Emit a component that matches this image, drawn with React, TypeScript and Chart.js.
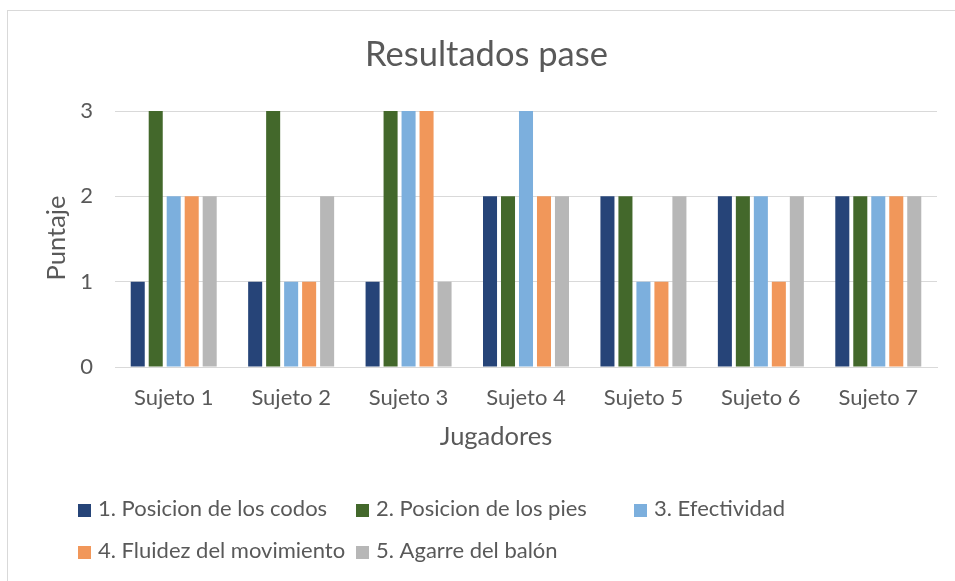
import React, { useEffect, useRef } from "react";
import { Chart, registerables } from "chart.js";

Chart.register(...registerables);

const categories = ["Sujeto 1", "Sujeto 2", "Sujeto 3", "Sujeto 4", "Sujeto 5", "Sujeto 6", "Sujeto 7"];
const seriesNames = [
  "1. Posicion de los codos",
  "2. Posicion de los pies",
  "3. Efectividad",
  "4. Fluidez del movimiento",
  "5. Agarre del balón",
];
const codos = [1, 1, 1, 2, 2, 2, 2];
const pies = [3, 3, 3, 2, 2, 2, 2];
const efectividad = [2, 1, 3, 3, 1, 2, 2];
const fluidez = [2, 1, 3, 2, 1, 1, 2];
const agarre = [2, 2, 1, 2, 2, 2, 2];
const seriesColors = ["#264478", "#43682B", "#7CAFDD", "#F1975A", "#B7B7B7"];
const yMin = 0;
const yMax = 3;
const yStep = 1;
const chartTitle = "Resultados pase";
const xTitle = "Jugadores";
const yTitle = "Puntaje";

const FONT = "Lato";
const TEXT = "#595959";
const LEGEND_SIZE = 22;
const TICK_SIZE = 22;

const textsAndLegend = {
  id: "textsAndLegend",
  afterDraw(chart: any) {
    const ctx = chart.ctx;
    ctx.save();
    ctx.fillStyle = TEXT;
    ctx.textAlign = "center";
    ctx.textBaseline = "middle";
    // chart title
    ctx.font = `34.5px ${FONT}`;
    ctx.fillText(chartTitle, 486.5, 55);
    // x axis title
    ctx.font = `25.5px ${FONT}`;
    ctx.fillText(xTitle, 496, 437);
    // y axis title
    ctx.save();
    ctx.translate(57, 238);
    ctx.rotate(-Math.PI / 2);
    ctx.fillText(yTitle, 0, 0);
    ctx.restore();
    // legend
    const cols = [78, 356, 634];
    const rows = [509, 551];
    ctx.font = `${LEGEND_SIZE}px ${FONT}`;
    ctx.textAlign = "left";
    chart.data.datasets.forEach((ds: any, i: number) => {
      const x = cols[i % 3];
      const y = rows[Math.floor(i / 3)];
      ctx.fillStyle = ds.backgroundColor;
      ctx.fillRect(x, y - 5, 13, 13);
      ctx.fillStyle = TEXT;
      ctx.fillText(ds.label, x + 20, y);
    });
    ctx.restore();
  },
};

export default function App() {
  const ref = useRef<HTMLCanvasElement | null>(null);
  useEffect(() => {
    if (!ref.current) return;
    const values = [codos, pies, efectividad, fluidez, agarre];
    const chart = new Chart(ref.current, {
      type: "bar",
      data: {
        labels: categories,
        datasets: seriesNames.map((name, i) => ({
          label: name,
          data: values[i],
          backgroundColor: seriesColors[i],
          borderWidth: 0,
          categoryPercentage: 0.766,
          barPercentage: 0.78,
        })),
      },
      options: {
        responsive: false,
        animation: false,
        devicePixelRatio: 1,
        layout: { padding: { left: 0, right: 18, top: 111, bottom: 121 } },
        plugins: {
          legend: { display: false },
          tooltip: { enabled: false },
          title: { display: false },
        },
        scales: {
          x: {
            grid: { display: false, drawTicks: false },
            border: { display: true, color: "#D9D9D9", width: 1 },
            ticks: { color: TEXT, font: { family: FONT, size: TICK_SIZE }, padding: 18 },
            title: { display: false },
            afterFit: (s: any) => {
              s.height = 93;
            },
          },
          y: {
            min: yMin,
            max: yMax,
            grid: { color: "#D9D9D9", lineWidth: 1, drawTicks: false },
            border: { display: false },
            ticks: { stepSize: yStep, color: TEXT, font: { family: FONT, size: TICK_SIZE }, padding: 22 },
            title: { display: false },
            afterFit: (s: any) => {
              s.width = 115;
            },
          },
        },
      },
      plugins: [textsAndLegend],
    });
    return () => chart.destroy();
  }, []);

  return (
    <div style={{ position: "fixed", left: 0, top: 0, width: 955, height: 581, background: "#fff", overflow: "hidden" }}>
      <canvas ref={ref} width={955} height={581} style={{ position: "absolute", left: 0, top: 0, width: 955, height: 581 }} />
      <div
        style={{
          position: "absolute",
          left: 7,
          top: 10,
          width: 1000,
          height: 700,
          border: "1px solid #D9D9D9",
          pointerEvents: "none",
        }}
      />
    </div>
  );
}
